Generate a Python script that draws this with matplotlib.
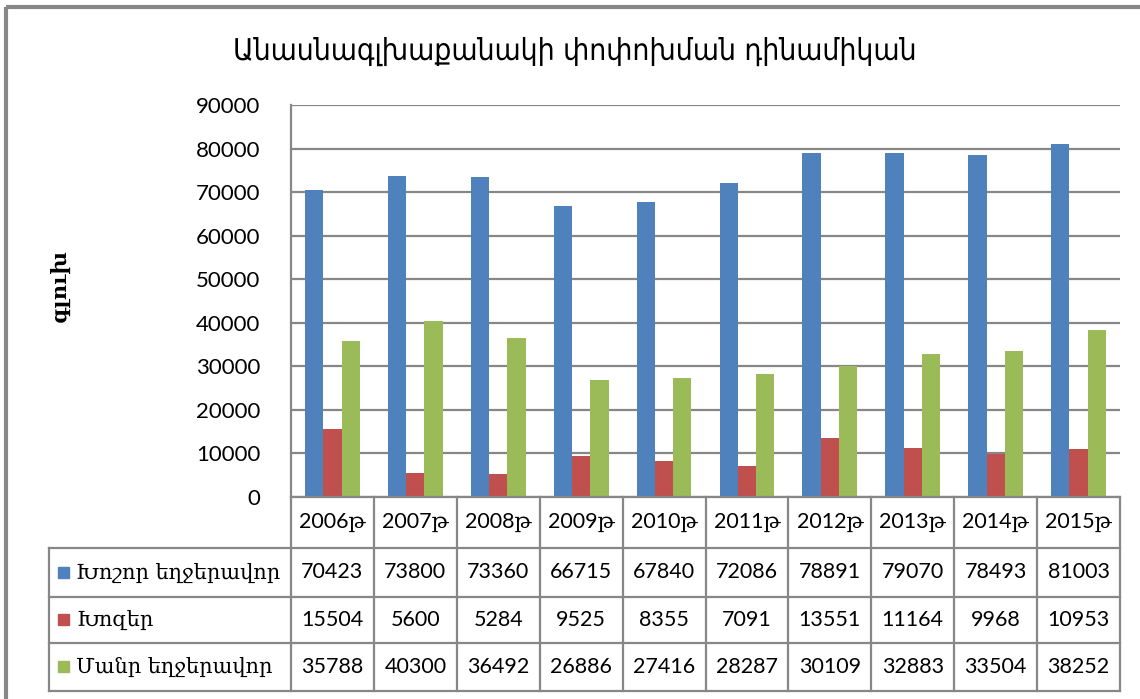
import matplotlib.pyplot as plt
from matplotlib.patches import Rectangle

years = ['2006թ', '2007թ', '2008թ', '2009թ', '2010թ', '2011թ', '2012թ', '2013թ', '2014թ', '2015թ']
cattle = [70423, 73800, 73360, 66715, 67840, 72086, 78891, 79070, 78493, 81003]
pigs = [15504, 5600, 5284, 9525, 8355, 7091, 13551, 11164, 9968, 10953]
sheep_goats = [35788, 40300, 36492, 26886, 27416, 28287, 30109, 32883, 33504, 38252]
series_names = ['Խոշոր եղջերավոր', 'Խոզեր', 'Մանր եղջերավոր']
colors = ['#4F81BD', '#C0504D', '#9BBB59']
title = 'Անասնագլխաքանակի փոփոխման դինամիկան'
ylabel = 'գլուխ'

W, H = 1140, 699
grid_c = '#878787'
num_font = ['Lato', 'DejaVu Serif']

fig = plt.figure(figsize=(W / 100, H / 100), dpi=100)

# plot area in pixels
px_l, px_r, px_t, px_b = 291, 1120, 105, 497
ax = fig.add_axes([px_l / W, 1 - px_b / H, (px_r - px_l) / W, (px_b - px_t) / H])

n = len(years)
bw = 0.22
xs = list(range(n))
all_series = [cattle, pigs, sheep_goats]
for k, vals in enumerate(all_series):
    ax.bar([x + (k - 1) * bw for x in xs], vals, width=bw, color=colors[k], zorder=3)

ax.set_xlim(-0.5, n - 0.5)
ax.set_ylim(0, 90000)
ax.set_yticks(range(0, 90001, 10000))
ax.set_yticklabels([str(v) for v in range(0, 90001, 10000)], family=num_font, fontsize=16)
ax.tick_params(axis='y', length=0, pad=22)
ax.set_xticks([])
ax.yaxis.grid(True, color=grid_c, linewidth=1.6, zorder=0)
for s in ['top', 'right', 'bottom']:
    ax.spines[s].set_visible(False)
ax.spines['left'].set_color(grid_c)
ax.spines['left'].set_linewidth(1.6)

# overlay axes in pixel coordinates for frame, table, title
ov = fig.add_axes([0, 0, 1, 1])
ov.set_xlim(0, W)
ov.set_ylim(H, 0)
ov.axis('off')

# outer frame: only top and left edges are visible
ov.plot([6, W], [7, 7], color=grid_c, lw=3, solid_capstyle='butt')
ov.plot([6, 6], [7, H], color=grid_c, lw=3, solid_capstyle='butt')

ov.text(575, 51, title, ha='center', va='center', fontsize=21.5,
        family='DejaVu Sans', fontstretch='condensed')
ov.text(60, 285, ylabel, ha='center', va='center', rotation=90, fontsize=15,
        family='DejaVu Serif', fontweight='bold')

# data table
colw = (px_r - px_l) / n
row_y = [497, 548, 597, 643, 691]
tab_l = 49
lw = 1.6
ov.plot([px_l, px_r], [row_y[0], row_y[0]], color=grid_c, lw=lw)
for y in row_y[1:]:
    ov.plot([tab_l, px_r], [y, y], color=grid_c, lw=lw)
ov.plot([tab_l, tab_l], [row_y[1], row_y[-1]], color=grid_c, lw=lw)
for i in range(n + 1):
    x = px_l + i * colw
    ov.plot([x, x], [row_y[0], row_y[-1]], color=grid_c, lw=lw)

for i, yr in enumerate(years):
    cx = px_l + (i + 0.5) * colw
    ov.text(cx, (row_y[0] + row_y[1]) / 2, yr, ha='center', va='center',
            fontsize=15.5, family=num_font)
    for k, vals in enumerate(all_series):
        cy = (row_y[k + 1] + row_y[k + 2]) / 2
        ov.text(cx, cy, str(vals[i]), ha='center', va='center',
                fontsize=15.5, family=num_font)

for k, name in enumerate(series_names):
    cy = (row_y[k + 1] + row_y[k + 2]) / 2
    ov.add_patch(Rectangle((58, cy - 6), 11, 11, color=colors[k]))
    ov.text(76, cy, name, ha='left', va='center', fontsize=15, family='DejaVu Serif')

fig.savefig('out.png', dpi=100)
